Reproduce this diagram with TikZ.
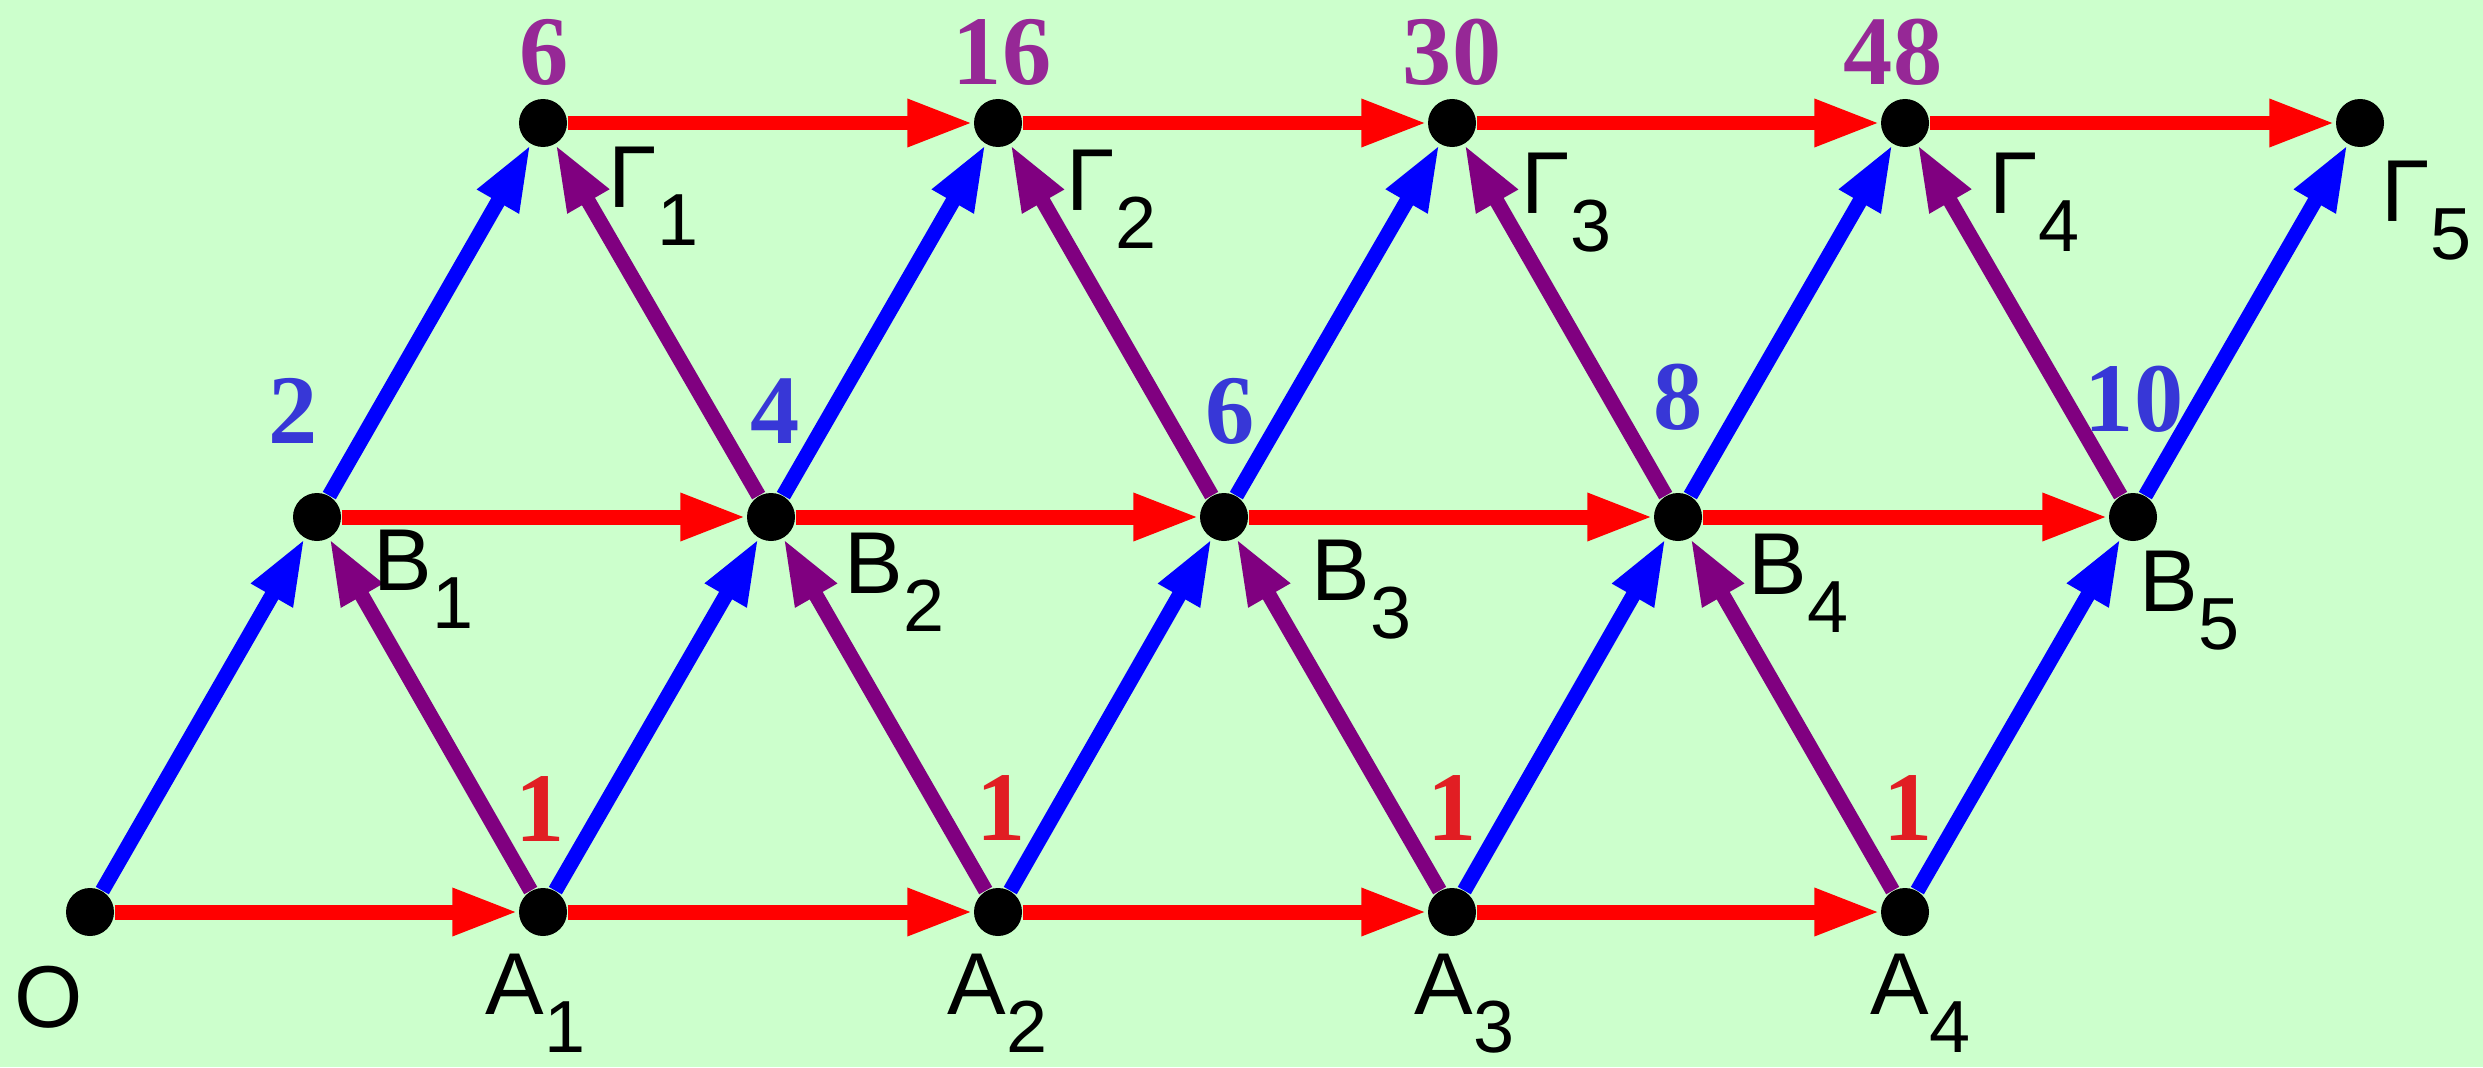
\documentclass[tikz,border=0pt]{standalone}
\usepackage{fontspec}
\setmainfont{Liberation Sans}
\newfontfamily\chiffres{Liberation Serif}
\usetikzlibrary{arrows.meta}

\definecolor{fond}{RGB}{204,255,204}
\definecolor{rouge}{RGB}{255,0,0}
\definecolor{bleu}{RGB}{0,0,255}
\definecolor{pourpre}{RGB}{128,0,128}
\definecolor{chrouge}{RGB}{225,30,35}
\definecolor{chbleu}{RGB}{55,55,215}
\definecolor{chpourpre}{RGB}{150,40,150}

% nom de sommet avec indice
\newcommand{\sommet}[2]{#1\raisebox{-0.38cm}{\fontsize{21}{21}\selectfont #2}}

\tikzset{
  pt/.style={circle, fill=black, inner sep=0pt, minimum size=0.48cm},
  nom/.style={anchor=base west, inner sep=0pt, font=\fontsize{25}{25}\selectfont},
  nb/.style={anchor=base, inner sep=0pt, font=\chiffres\bfseries\fontsize{28}{28}\selectfont},
  fl/.style={line width=0.15cm, -{Triangle[length=0.66cm,width=0.44cm]}}
}

\begin{document}
\begin{tikzpicture}
  % fond vert
  \fill[fond] (0,0) rectangle (24.83,10.67);

  % sommets : ligne A, ligne B, ligne Gamma
  \node[pt] (O)  at (0.90,1.55) {};
  \node[pt] (A1) at (5.43,1.55) {};
  \node[pt] (A2) at (9.98,1.55) {};
  \node[pt] (A3) at (14.52,1.55) {};
  \node[pt] (A4) at (19.05,1.55) {};

  \node[pt] (B1) at (3.17,5.50) {};
  \node[pt] (B2) at (7.71,5.50) {};
  \node[pt] (B3) at (12.24,5.50) {};
  \node[pt] (B4) at (16.78,5.50) {};
  \node[pt] (B5) at (21.33,5.50) {};

  \node[pt] (G1) at (5.43,9.44) {};
  \node[pt] (G2) at (9.98,9.44) {};
  \node[pt] (G3) at (14.52,9.44) {};
  \node[pt] (G4) at (19.05,9.44) {};
  \node[pt] (G5) at (23.60,9.44) {};

  % fleches rouges (horizontales)
  \draw[fl, rouge] (O) -- (A1);
  \draw[fl, rouge] (A1) -- (A2);
  \draw[fl, rouge] (A2) -- (A3);
  \draw[fl, rouge] (A3) -- (A4);
  \draw[fl, rouge] (B1) -- (B2);
  \draw[fl, rouge] (B2) -- (B3);
  \draw[fl, rouge] (B3) -- (B4);
  \draw[fl, rouge] (B4) -- (B5);
  \draw[fl, rouge] (G1) -- (G2);
  \draw[fl, rouge] (G2) -- (G3);
  \draw[fl, rouge] (G3) -- (G4);
  \draw[fl, rouge] (G4) -- (G5);

  % fleches violettes (vers le haut a gauche)
  \draw[fl, pourpre] (A1) -- (B1);
  \draw[fl, pourpre] (A2) -- (B2);
  \draw[fl, pourpre] (A3) -- (B3);
  \draw[fl, pourpre] (A4) -- (B4);
  \draw[fl, pourpre] (B2) -- (G1);
  \draw[fl, pourpre] (B3) -- (G2);
  \draw[fl, pourpre] (B4) -- (G3);
  \draw[fl, pourpre] (B5) -- (G4);

  % fleches bleues (vers le haut a droite)
  \draw[fl, bleu] (O) -- (B1);
  \draw[fl, bleu] (A1) -- (B2);
  \draw[fl, bleu] (A2) -- (B3);
  \draw[fl, bleu] (A3) -- (B4);
  \draw[fl, bleu] (A4) -- (B5);
  \draw[fl, bleu] (B1) -- (G1);
  \draw[fl, bleu] (B2) -- (G2);
  \draw[fl, bleu] (B3) -- (G3);
  \draw[fl, bleu] (B4) -- (G4);
  \draw[fl, bleu] (B5) -- (G5);

  % noms des sommets
  \node[nom] (lO)  at (0.14,0.40) {O};
  \node[nom] (lA1) at (4.85,0.53) {\sommet{A}{1}};
  \node[nom] (lA2) at (9.47,0.53) {\sommet{A}{2}};
  \node[nom] (lA3) at (14.14,0.53) {\sommet{A}{3}};
  \node[nom] (lA4) at (18.70,0.53) {\sommet{A}{4}};

  \node[nom] (lB1) at (3.73,4.77) {\sommet{B}{1}};
  \node[nom] (lB2) at (8.44,4.74) {\sommet{B}{2}};
  \node[nom] (lB3) at (13.11,4.67) {\sommet{B}{3}};
  \node[nom] (lB4) at (17.48,4.73) {\sommet{B}{4}};
  \node[nom] (lB5) at (21.39,4.56) {\sommet{B}{5}};

  \node[nom] (lG1) at (6.08,8.60) {\sommet{Γ}{1}};
  \node[nom] (lG2) at (10.66,8.57) {\sommet{Γ}{2}};
  \node[nom] (lG3) at (15.21,8.54) {\sommet{Γ}{3}};
  \node[nom] (lG4) at (19.89,8.54) {\sommet{Γ}{4}};
  \node[nom] (lG5) at (23.81,8.46) {\sommet{Γ}{5}};

  % nombres de chemins
  \node[nb, chrouge] (n1a) at (5.40,2.26) {1};
  \node[nb, chrouge] (n1b) at (10.01,2.27) {1};
  \node[nb, chrouge] (n1c) at (14.52,2.27) {1};
  \node[nb, chrouge] (n1d) at (19.08,2.27) {1};

  \node[nb, chbleu] (n2)  at (2.93,6.24) {2};
  \node[nb, chbleu] (n4)  at (7.75,6.24) {4};
  \node[nb, chbleu] (n6)  at (12.30,6.24) {6};
  \node[nb, chbleu] (n8)  at (16.78,6.38) {8};
  \node[nb, chbleu] (n10) at (21.34,6.36) {10};

  \node[nb, chpourpre] (m6)  at (5.44,9.83) {6};
  \node[nb, chpourpre] (m16) at (10.02,9.82) {16};
  \node[nb, chpourpre] (m30) at (14.52,9.82) {30};
  \node[nb, chpourpre] (m48) at (18.93,9.82) {48};
\end{tikzpicture}
\end{document}
